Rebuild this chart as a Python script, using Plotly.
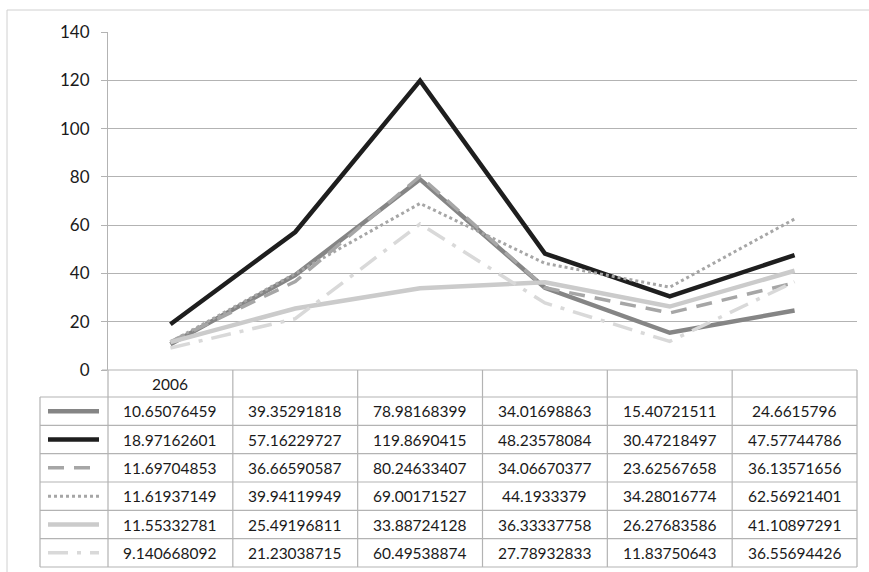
import plotly.graph_objects as go

W, H = 869, 572

categories = ["2006", "", "", "", "", ""]
s1 = [10.65076459, 39.35291818, 78.98168399, 34.01698863, 15.40721511, 24.6615796]
s2 = [18.97162601, 57.16229727, 119.8690415, 48.23578084, 30.47218497, 47.57744786]
s3 = [11.69704853, 36.66590587, 80.24633407, 34.06670377, 23.62567658, 36.13571656]
s4 = [11.61937149, 39.94119949, 69.00171527, 44.1933379, 34.28016774, 62.56921401]
s5 = [11.55332781, 25.49196811, 33.88724128, 36.33337758, 26.27683586, 41.10897291]
s6 = [9.140668092, 21.23038715, 60.49538874, 27.78932833, 11.83750643, 36.55694426]
series = [s1, s2, s3, s4, s5, s6]
y_ticks = [0, 20, 40, 60, 80, 100, 120, 140]

styles = [
    dict(color="#858585", width=4.5, dash="solid"),
    dict(color="#1e1e1e", width=4.5, dash="solid"),
    dict(color="#a6a6a6", width=3.5, dash="16px,10px"),
    dict(color="#a6a6a6", width=3, dash="dot"),
    dict(color="#cbcbcb", width=4.5, dash="solid"),
    dict(color="#d9d9d9", width=3.5, dash="20px,9px,4px,9px"),
]

def px(x):
    return x / W

def py(y):
    return 1 - y / H

X0, X1 = 108, 857
Y_TOP, Y_ZERO = 32, 370
TBL_LEFT = 40
row_edges = [370, 397] + [397 + 170 * i / 6 for i in range(1, 7)]
col_edges = [X0 + (X1 - X0) * i / 6 for i in range(7)]

fig = go.Figure()
xs = list(range(len(categories)))
for i, s in enumerate(series):
    fig.add_trace(go.Scatter(x=xs, y=s, mode="lines", line=styles[i],
                             showlegend=False, hoverinfo="skip"))

LINE = "#b3b3b3"
shapes = []
shapes.append(dict(type="line", xref="paper", yref="paper", x0=px(7), x1=px(7),
                   y0=py(10), y1=py(572), line=dict(color="#d0d0d0", width=1)))
shapes.append(dict(type="line", xref="paper", yref="paper", x0=px(7), x1=px(869),
                   y0=py(10), y1=py(10), line=dict(color="#d0d0d0", width=1)))
shapes.append(dict(type="line", xref="paper", yref="paper", x0=px(102), x1=px(X1),
                   y0=py(370), y1=py(370), line=dict(color=LINE, width=1.2)))
for yy in row_edges[1:]:
    shapes.append(dict(type="line", xref="paper", yref="paper", x0=px(TBL_LEFT), x1=px(X1),
                       y0=py(yy), y1=py(yy), line=dict(color=LINE, width=1.2)))
for xx in col_edges:
    shapes.append(dict(type="line", xref="paper", yref="paper", x0=px(xx), x1=px(xx),
                       y0=py(370), y1=py(row_edges[-1]), line=dict(color=LINE, width=1.2)))
shapes.append(dict(type="line", xref="paper", yref="paper", x0=px(TBL_LEFT), x1=px(TBL_LEFT),
                   y0=py(397), y1=py(row_edges[-1]), line=dict(color=LINE, width=1.2)))

annotations = []
FONT = dict(family="Lato, Open Sans, sans-serif", size=15.5, color="#1a1a1a")
for j, c in enumerate(categories):
    if c:
        annotations.append(dict(xref="paper", yref="paper",
                                x=px((col_edges[j] + col_edges[j + 1]) / 2),
                                y=py((row_edges[0] + row_edges[1]) / 2),
                                text=c, showarrow=False, font=FONT,
                                xanchor="center", yanchor="middle"))
for i, s in enumerate(series):
    yc = (row_edges[i + 1] + row_edges[i + 2]) / 2
    st = styles[i]
    shapes.append(dict(type="line", xref="paper", yref="paper", x0=px(48), x1=px(99),
                       y0=py(yc), y1=py(yc),
                       line=dict(color=st["color"], width=st["width"], dash=st["dash"])))
    for j, v in enumerate(s):
        annotations.append(dict(xref="paper", yref="paper",
                                x=px((col_edges[j] + col_edges[j + 1]) / 2), y=py(yc),
                                text="{:.10g}".format(v), showarrow=False, font=FONT,
                                xanchor="center", yanchor="middle"))

fig.update_layout(
    width=W, height=H,
    margin=dict(l=0, r=0, t=0, b=0),
    paper_bgcolor="white", plot_bgcolor="white",
    xaxis=dict(domain=[px(X0), px(X1)], range=[-0.5, 5.5], showticklabels=False,
               showgrid=False, zeroline=False, showline=False, ticks=""),
    yaxis=dict(domain=[py(Y_ZERO), py(Y_TOP)], range=[0, 140], tickvals=y_ticks,
               showgrid=True, gridcolor="#b3b3b3", gridwidth=1, zeroline=False,
               showline=True, linecolor="#b3b3b3", linewidth=1.2,
               ticks="outside", ticklen=6, tickcolor="#b3b3b3", automargin=False,
               ticklabelstandoff=8,
               tickfont=dict(family="Lato, Open Sans, sans-serif", size=17, color="#1a1a1a")),
    shapes=shapes, annotations=annotations,
)

fig.write_html("out.html", config={"displayModeBar": False},
               post_script="document.body.style.margin='0';document.body.style.overflow='hidden';")
